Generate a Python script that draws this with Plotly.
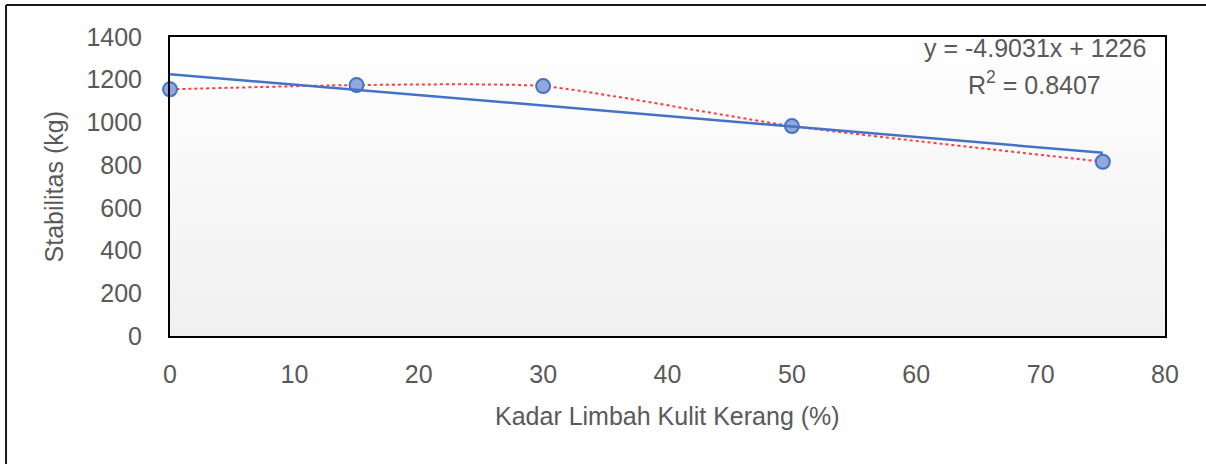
import base64
import plotly.graph_objects as go

# ---- data ----
kadar = [0, 15, 30, 50, 75]                 # Kadar Limbah Kulit Kerang (%)
stabilitas = [1155, 1175, 1170, 983, 816]    # Stabilitas (kg)
trend_slope = -4.9031
trend_intercept = 1226
r_squared = 0.8407
x_ticks = [0, 10, 20, 30, 40, 50, 60, 70, 80]
y_ticks = [0, 200, 400, 600, 800, 1000, 1200, 1400]
x_title = "Kadar Limbah Kulit Kerang (%)"
y_title = "Stabilitas (kg)"

FONT = "Liberation Sans, Arial, sans-serif"
TXT = "#595959"

trend_x = [min(kadar), max(kadar)]
trend_y = [trend_slope * v + trend_intercept for v in trend_x]

fig = go.Figure()
fig.add_trace(go.Scatter(
    x=kadar, y=stabilitas, mode="lines+markers",
    line=dict(color="#FF3B3B", width=2, dash="dot", shape="spline", smoothing=0.55),
    marker=dict(size=14, color="#93A7DC", line=dict(color="#4472C4", width=2)),
    cliponaxis=False, showlegend=False,
))
fig.add_trace(go.Scatter(
    x=trend_x, y=trend_y, mode="lines",
    line=dict(color="#4472C4", width=2.5),
    cliponaxis=False, showlegend=False,
))

# vertical gradient background for plot area
svg = ('<svg xmlns="http://www.w3.org/2000/svg" width="100" height="100" preserveAspectRatio="none">'
       '<defs><linearGradient id="g" x1="0" y1="0" x2="0" y2="1">'
       '<stop offset="0" stop-color="#ffffff"/><stop offset="1" stop-color="#f0f0f0"/>'
       '</linearGradient></defs><rect width="100" height="100" fill="url(#g)"/></svg>')
src = "data:image/svg+xml;base64," + base64.b64encode(svg.encode()).decode()

axis_common = dict(
    showgrid=False, zeroline=False, ticks="",
    showline=True, linecolor="black", linewidth=2, mirror=True,
    tickfont=dict(family=FONT, size=25, color=TXT),
)

fig.update_layout(
    width=1206, height=464,
    margin=dict(l=170, r=41, t=37, b=128),
    paper_bgcolor="white", plot_bgcolor="rgba(0,0,0,0)",
    images=[dict(source=src, xref="paper", yref="paper", x=0, y=1, sizex=1, sizey=1,
                 sizing="stretch", xanchor="left", yanchor="top", layer="below")],
    xaxis=dict(range=[0, 80], tickvals=x_ticks, ticklabelstandoff=15, **axis_common),
    yaxis=dict(range=[0, 1400], tickvals=y_ticks, ticklabelstandoff=21, **axis_common),
    font=dict(family=FONT, color=TXT),
    annotations=[
        dict(text=x_title, xref="paper", yref="paper", x=0.5, y=-0.266,
             xanchor="center", yanchor="middle", showarrow=False,
             font=dict(family=FONT, size=25, color=TXT)),
        dict(text=y_title, xref="paper", yref="paper", x=-0.1166, y=0.5,
             xanchor="center", yanchor="middle", showarrow=False, textangle=-90,
             font=dict(family=FONT, size=25, color=TXT)),
        dict(text=f"y = {trend_slope}x + {trend_intercept}", xref="paper", yref="paper",
             x=0.869, y=0.963, xanchor="center", yanchor="middle", showarrow=False,
             font=dict(family=FONT, size=25, color=TXT)),
        dict(text=f"R<sup>2</sup> = {r_squared}", xref="paper", yref="paper",
             x=0.869, y=0.846, xanchor="center", yanchor="middle", showarrow=False,
             font=dict(family=FONT, size=25, color=TXT)),
    ],
    shapes=[
        dict(type="line", xref="paper", yref="paper", x0=-0.1648, x1=-0.1648, y0=1.107, y1=-0.5,
             line=dict(color="#1a1a1a", width=2)),
        dict(type="line", xref="paper", yref="paper", x0=-0.1648, x1=1.2, y0=1.107, y1=1.107,
             line=dict(color="#1a1a1a", width=2)),
    ],
)

fig.write_html("out.html", config={"displayModeBar": False},
               post_script="document.body.style.margin='0';document.body.style.overflow='hidden';")
